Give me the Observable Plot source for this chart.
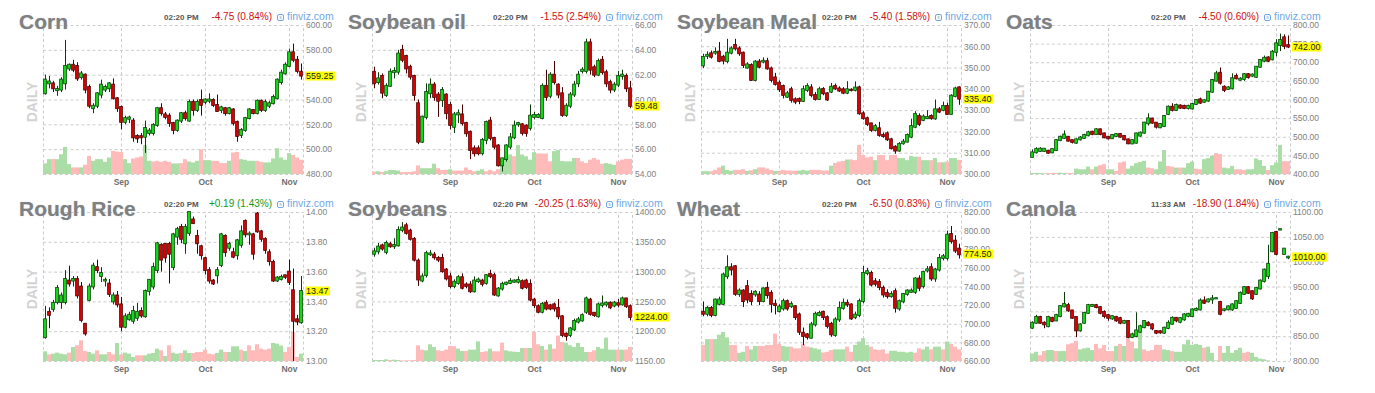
<!DOCTYPE html>
<html><head><meta charset="utf-8">
<script src="https://cdn.jsdelivr.net/npm/d3@7"></script>
<script src="https://cdn.jsdelivr.net/npm/@observablehq/plot@0.6"></script>
<style>
body{margin:0;background:#fff}
#wrap{position:relative;width:1375px;height:393px;overflow:hidden;font-family:"Liberation Sans",Arial,sans-serif}
.panel{position:absolute;width:375px;height:200px}
.panel svg{position:absolute;left:0;top:0}
.ttl{position:absolute;left:19px;top:11px;font-weight:bold;font-size:21px;line-height:21px;color:#808080;white-space:nowrap;text-shadow:0 0 1px rgba(150,170,200,0.7)}
.tm{position:absolute;left:164px;top:14px;font-size:8px;line-height:8px;font-weight:bold;color:#555;white-space:nowrap}
.chg{position:absolute;right:103px;top:11.5px;font-size:10px;line-height:10px;white-space:nowrap}
.fv{position:absolute;left:277px;top:11px;font-size:10.5px;line-height:10px;color:#6fa8e4;white-space:nowrap}
.ic{display:inline-block;width:5px;height:5px;border:1px solid #6fa8e4;border-radius:2px;font-size:5px;line-height:5px;text-align:center;margin-right:3px;vertical-align:1px}
.daily{position:absolute;left:32px;top:102px;font-weight:bold;font-size:14px;line-height:14px;color:#d3d3d3;transform:translate(-50%,-50%) rotate(-90deg);white-space:nowrap}
.last{position:absolute;left:305px;height:9px;line-height:9px;font-size:9px;background:#ffff00;color:#222;padding:0 1px;transform:translateY(-50%);white-space:nowrap}
#err{position:absolute;left:0;top:370px;color:red;font-size:12px}
</style></head>
<body><div id="wrap"></div><div id="err"></div>
<script>
const months = ["Sep", "Oct", "Nov"];
const monthIdx = [19, 40, 61];
const N = 65;

const names = ["Corn", "Soybean oil", "Soybean Meal", "Oats", "Rough Rice", "Soybeans", "Wheat", "Canola"];
const times = ["02:20 PM", "02:20 PM", "02:20 PM", "02:20 PM", "02:20 PM", "02:20 PM", "02:20 PM", "11:33 AM"];
const changes = ["-4.75 (0.84%)", "-1.55 (2.54%)", "-5.40 (1.58%)", "-4.50 (0.60%)", "+0.19 (1.43%)", "-20.25 (1.63%)", "-6.50 (0.83%)", "-18.90 (1.84%)"];
const lastPrices = [559.25, 59.48, 335.40, 742.00, 13.47, 1224.00, 774.50, 1010.00];

const cornTicks = [480, 500, 520, 540, 560, 580, 600];
const soyOilTicks = [54, 56, 58, 60, 62, 64, 66];
const mealTicks = [300, 310, 320, 330, 340, 350, 360, 370];
const oatsTicks = [400, 450, 500, 550, 600, 650, 700, 750, 800];
const riceTicks = [13.0, 13.2, 13.4, 13.6, 13.8, 14.0];
const beansTicks = [1150, 1200, 1250, 1300, 1350, 1400];
const wheatTicks = [660, 680, 700, 720, 740, 760, 780, 800, 820];
const canolaTicks = [800, 850, 900, 950, 1000, 1050, 1100];

// Corn
const cornO = [545,553,553,547.5,548,553,565,568,567,558,560,550,533,535,544,548,549,552,541,534,522,524.5,523,510.6,510.5,510,513,513,519.5,533,528,527,521,515.5,523,529,523,538,531.5,539.6,538,539,539.6,535.6,531.5,533,529,532,522,511.4,515.5,525,531.5,529,539,531.5,535,537,541,554,561,567,578,572,562.4];
const cornH = [560,559,555,551,558,588,569,572,570,563,561,552,537,546,556,552,554,557,542,535,527,527,525,512,513,523,517,521,534,537,530,529,522,524,530,531,540,540,540,548,541,545,541,544,535,534,534,533,523,517,526,533,532,540,540,540,539,544,557,564,570,581,585,575,569];
const cornL = [544,549,546,543,546,548,563,562,555,556,545,533,529,533,541,546,546,540,530,516,520,521,506,505,504,497,511,511,518,527,524,518,512,514,521,523,522,527,530,527,536,537,534,530,529,527,528,519,506,509,514,524,528,528,530,530,533,536,540,552,560,566,570,561,556];
const cornC = [556,554.5,549,548.5,556,567,568,564,557,561,548,535,535,545,552,550,553,541,533,522,525,525.5,509.5,508.7,509.5,517,515,519.5,533,529,526,521,515.5,523,529,525,538,531.5,538,535.6,540,540,535.6,530.7,533.7,529,533,521,510.6,515.5,525,532,529,539,531.5,538,537,542,556,561.6,568,578,572,563,559.25];
const cornV = [32,45,-45,45,60,82,30,-20,-20,20,-28,-55,40,45,45,37,50,-70,-68,-67,45,33,-47,-50,-53,88,40,-38,-40,-37,-40,-37,32,32,-33,-45,38,35,40,-75,42,42,-40,-40,-33,-33,40,-65,-67,45,43,40,40,-40,-37,35,35,47,78,50,43,63,-58,-50,-43];

// Soybean oil
const soyOilO = [62.24,61.4,61.9,60.36,61.1,62.2,62.24,64.0,63.5,62.64,61.9,59.7,56.6,58.6,60.5,61.2,60.4,59.96,60.4,59.55,57.8,58.8,58.8,58.1,57.4,56.07,56.07,55.67,56.74,58.3,56.9,56.3,54.7,55.2,56.2,56.95,58.0,58.0,57.9,57.7,58.6,58.6,58.5,61.1,60.3,62.0,61.2,60.5,58.75,59.5,60.4,61.3,62.3,62.3,64.6,62.6,62.0,63.2,62.2,61.4,60.8,61.2,61.9,61.9,60.9];
const soyOilH = [62.64,62.2,62.1,61.3,62.5,62.6,64.0,64.4,63.6,62.8,62.0,60.0,58.7,61.3,61.7,61.4,60.6,61.0,60.5,59.8,59.0,59.2,59.6,58.2,57.5,56.3,56.3,56.9,58.3,58.6,57.0,56.4,55.3,56.4,57.3,58.3,58.2,58.1,58.0,59.6,59.0,58.9,61.3,62.4,62.2,63.1,61.3,61.0,59.7,60.6,61.5,62.3,62.6,64.9,64.9,62.8,63.3,63.5,62.4,61.6,61.4,62.3,62.4,62.1,61.5];
const soyOilL = [60.9,61.2,60.1,60.2,61.0,61.7,62.0,63.0,62.1,61.6,59.9,56.4,56.5,58.4,60.1,59.9,58.6,59.4,58.4,57.6,57.3,58.1,57.9,57.0,55.2,55.4,55.5,55.5,56.4,56.7,56.0,54.6,54.2,55.0,56.0,56.8,57.8,57.1,57.0,57.5,58.4,58.5,58.4,59.9,60.1,61.2,60.1,58.6,58.6,59.3,60.2,61.0,62.1,62.1,62.0,61.8,61.9,62.0,61.0,60.5,60.6,61.0,61.6,60.6,59.3];
const soyOilC = [61.30,61.7,60.55,61.1,62.24,62.3,63.7,63.2,62.5,61.84,60.36,56.6,58.62,60.6,61.2,60.2,59.9,60.76,58.9,57.95,58.8,58.9,58.1,57.28,55.93,55.67,55.67,56.74,58.2,56.9,56.2,54.7,55.26,56.3,56.95,57.9,58.1,57.3,57.3,58.7,58.75,58.75,61.1,60.2,62.0,61.4,60.4,58.75,59.5,60.4,61.2,62.0,62.4,64.6,62.4,62.0,63.1,62.2,61.3,60.8,61.2,61.9,62.0,60.9,59.48];
const soyOilV = [-7,8,-6,8,12,12,10,-6,-6,-6,-8,-25,17,17,17,30,-17,-12,-12,14,-10,-10,-10,-19,-12,-8,10,14,-8,-12,-8,-14,42,52,57,-52,85,57,52,42,64,-60,-60,-60,-37,67,70,38,37,37,47,-47,-37,-32,-42,-47,-42,-30,32,30,27,-37,-42,-44,-44];

// Soybean Meal
const mealO = [351,355.5,356.7,357,357.5,355.1,353,357,360.6,359,357,350,351.2,344.2,352.8,352.8,353,349.6,345.4,342.9,341.3,336.3,339.8,335.1,335.2,334.3,339.5,340.7,337.1,335.2,340,337.9,338.7,341.3,340.2,339.8,338.2,339.6,339.5,340.7,328.5,326.2,323.8,320.7,321.5,318.3,319.1,316.3,312.8,311,314.4,315.2,317.5,322.2,327.3,325.4,326.2,327.3,326.1,330.4,330.1,332,328.2,336.6,340.7];
const mealH = [356.5,357.6,358,359.5,362,356,363.5,360,363.5,360,357.5,352.5,352,353.5,354,354.8,354.6,350.5,347.5,344,342,339,341,336,336,341.5,342.6,342.2,338.5,341,340.8,338.5,342.8,342.5,341.2,340.8,343.6,340.3,343.5,341.5,329.5,327,324,323.5,324.5,319.5,320,317,313.5,315,316.5,319,326,329.5,328.5,328,330,328,335,331.5,334,333.5,337.5,341,341.2];
const mealL = [349.8,354,354.2,356,352.5,351.5,352,356.2,358,355.5,349.8,349.5,343.8,343.5,349.6,352,349,343,341.5,338.5,335.5,335.8,333.5,332.8,332.8,333.8,338.5,336,334.5,334.8,337,334.3,338,339.5,338.5,337.5,337.5,338.8,338.8,327.8,325.5,322.5,319.8,320,317.5,317,315.5,311.5,309.5,310.5,313.8,314.8,316.8,321.5,322.5,324.8,325.8,325.5,325.5,328.6,329.5,327.8,328,336,332.5];
const mealC = [355,356,355.1,357.4,353.1,353.3,357,359,359,356.7,351.2,351.5,344.2,352.8,350.4,353.2,349.6,344.2,342.3,339.8,337.1,337.9,334.8,334,334.3,339.8,341.3,337.1,335.2,339.8,337.9,335,341,340.2,339.2,338.2,339.8,339.4,340.6,328.5,326.2,323.5,320.7,322.5,318.3,317.8,316.3,312.1,311,314.1,315.2,318.3,322.5,328.2,323.5,327,326.8,326.2,330.4,329.3,332,328.2,336.8,340.2,335.4];
const mealV = [8,8,-8,-12,-19,24,12,9,-12,-12,-14,9,-11,14,-19,-19,-16,-12,9,-9,-12,-10,-10,-9,10,12,10,-12,-12,-12,-10,-10,24,-32,-36,-38,42,-42,-40,-84,-55,-48,-50,40,-55,-55,-40,-55,-55,46,46,40,52,50,-50,40,40,-40,46,-34,34,-36,46,46,-41];

// Oats
const oatsO = [446,458.2,462,462,462.6,458,464,491,497,500,491,484,493,497,504,513.6,507,520,509,500,496,502,507.4,502,493,482,484,503,511,536,549,537.8,525.3,528.9,561,580.7,571.8,584,583,577,576,587.9,600.4,594,597,621,650.6,672,634.3,628.3,630,663.2,653,655,668,664,661,688,704,713,707.8,728,746,767,746];
const oatsH = [466,472,472,469,465,468,494,503,517,502,490,496,502,508,516,516,523,522,511,502,507,510,509,504,495,493,511,514,540,563,551,539,537,558,584,590,589,587,586,586,591,601,605,600,623,655,677,686,638,636,670,670,660,671,671,670,690,708,718,716,733,762,777,775,772];
const oatsL = [445,455,460,460,455,456,462,488,494,487,482,481,490,494,501,504,505,504,496,493,494,499,498,490,480,480,482,500,508,530,535,522,523,526,558,568,569,575,574,573,573,585,588,591,594,618,648,640,620,626,627,654,651,650,656,660,658,685,700,701,705,716,730,735,738];
const oatsC = [458,466.8,468,468,457,466.8,491,500,506,489.5,486,493,498,504.6,512,507.4,520,507,498.4,495.7,504.6,507,500.2,493,482.3,491,509,511,538,549.4,537.8,527,534.2,555.7,580.7,571.8,585.2,578,577,583,587.9,598.7,591.5,598,621,652.3,670.2,645,625.5,632.5,657,656.8,656,668,660,667,688,706,712,704,728.4,750.8,759.7,743.6,742];
const oatsV = [3,3,3,2,-3,-3,-3,4,3,-3,-3,16,14,14,22,-14,22,-26,-29,14,14,-9,-34,-37,16,24,32,36,39,-19,-17,14,37,71,-24,-22,19,-19,19,32,37,-16,-14,44,47,54,-62,-59,19,17,24,-14,-14,-12,14,14,46,41,24,-12,26,34,86,-38,-38];

// Rough Rice
const riceO = [13.16,13.33,13.35,13.395,13.395,13.395,13.54,13.54,13.55,13.50,13.25,13.41,13.50,13.63,13.57,13.54,13.52,13.40,13.44,13.38,13.23,13.28,13.27,13.29,13.335,13.30,13.47,13.50,13.61,13.78,13.785,13.785,13.63,13.835,13.90,13.79,13.86,13.95,13.84,13.77,13.69,13.61,13.54,13.575,13.645,13.84,13.76,13.73,13.71,13.78,13.94,13.85,13.85,13.99,13.87,13.82,13.73,13.665,13.54,13.55,13.575,13.60,13.475,13.28,13.26];
const riceH = [13.37,13.36,13.41,13.51,13.46,13.61,13.64,13.57,13.57,13.53,13.22,13.52,13.66,13.68,13.63,13.56,13.55,13.46,13.47,13.43,13.32,13.33,13.37,13.39,13.36,13.48,13.55,13.66,13.80,13.79,13.79,13.80,13.86,13.90,13.92,13.92,14.00,13.97,13.88,13.78,13.70,13.63,13.55,13.63,13.86,13.85,13.80,13.76,13.82,13.91,13.95,13.87,13.86,14.00,13.88,13.83,13.75,13.68,13.57,13.58,13.58,13.68,13.62,13.31,13.57];
const riceL = [13.15,13.22,13.33,13.38,13.35,13.38,13.50,13.50,13.42,13.26,13.17,13.40,13.48,13.59,13.53,13.50,13.43,13.38,13.36,13.20,13.22,13.27,13.25,13.27,13.29,13.29,13.44,13.48,13.59,13.60,13.66,13.52,13.61,13.78,13.79,13.72,13.84,13.92,13.72,13.68,13.58,13.52,13.51,13.52,13.63,13.70,13.74,13.69,13.68,13.76,13.83,13.78,13.68,13.86,13.80,13.72,13.64,13.53,13.53,13.54,13.55,13.51,13.00,13.24,13.25];
const riceC = [13.28,13.31,13.39,13.49,13.44,13.55,13.52,13.55,13.44,13.275,13.185,13.50,13.64,13.61,13.59,13.545,13.45,13.44,13.38,13.23,13.30,13.31,13.335,13.33,13.305,13.47,13.545,13.63,13.79,13.68,13.695,13.72,13.85,13.885,13.82,13.90,14.00,13.925,13.79,13.71,13.61,13.54,13.52,13.61,13.85,13.73,13.785,13.70,13.81,13.87,13.85,13.855,13.72,13.87,13.82,13.745,13.67,13.54,13.56,13.565,13.565,13.53,13.27,13.265,13.47];
const riceV = [29,-20,22,25,22,20,-25,42,-47,-62,-30,27,22,-32,20,20,-27,-20,54,-20,25,22,12,-17,-17,17,22,24,37,-32,15,-47,25,22,-24,32,24,-24,-27,-27,-34,-22,-20,24,34,-27,27,44,44,-34,30,-47,-32,-50,-37,-34,-37,54,52,46,-27,-42,-87,-12,22];

// Soybeans
const beansO = [1330,1334,1344,1333,1346,1342.5,1344,1370,1377.7,1368.8,1355,1318.5,1285,1294,1329,1328.6,1323,1323,1303.5,1292,1275.6,1281,1290.6,1278.4,1278.4,1267,1284,1285,1281,1296,1294,1260,1271.6,1279.5,1281,1283,1283,1284,1285,1279.5,1253,1242,1232.6,1247.7,1243.5,1245,1239,1225,1195.8,1193.5,1203,1216,1218,1232.6,1253,1231,1225,1244,1245,1247.7,1243,1247,1245,1255,1242];
const beansH = [1340,1348,1347,1352,1350,1356,1376,1383,1382,1372,1358,1322,1297,1335,1336,1333,1326,1330,1306,1298,1287,1294,1297,1282,1284,1292,1290,1288,1296,1303,1298,1274,1283,1283,1289,1287,1292,1287,1288,1287,1256,1245,1249,1252,1246,1248,1254,1227,1198,1207,1221,1224,1230,1258,1256,1232,1248,1260,1250,1250,1251,1254,1258,1256,1245];
const beansL = [1325,1329,1335,1329,1340,1338,1342,1366,1362,1352,1317,1276,1282,1290,1326,1320,1316,1298,1285,1272,1272,1278,1270,1272,1264,1265,1281,1275,1278,1289,1259,1258,1268,1277,1279,1281,1280,1270,1271,1250,1239,1230,1230,1235,1235,1233,1220,1190,1184,1190,1200,1213,1216,1229,1226,1224,1223,1240,1241,1237,1240,1240,1243,1239,1218];
const beansC = [1334,1342,1338.6,1348,1342.5,1344.5,1370,1374,1365,1355,1320,1286.7,1292,1331,1330.5,1324,1320,1300.7,1288.4,1275.6,1283,1290.6,1272.8,1276,1267,1285,1286.5,1279.5,1294,1292.3,1261.6,1271.6,1279.5,1281.5,1284.5,1285,1286,1272.8,1274,1253,1243.7,1232.6,1246,1238,1238,1238,1225,1193.5,1192,1204.7,1217,1219.8,1227,1255,1229,1227,1245,1246.5,1247.7,1240,1248,1244.5,1255,1242,1224];
const beansV = [3,3,3,5,-3,4,3,-2,-2,-2,-3,-47,-34,32,50,42,-32,-30,-34,-45,-44,37,30,-30,34,34,59,-27,-29,37,-29,-29,-55,32,29,28,27,39,-39,39,-87,-50,45,-34,50,-37,-76,-57,55,47,42,54,42,27,-27,-32,42,37,70,34,34,-34,34,-34,-42];

// Wheat
const wheatO = [712.9,710.7,717,709.3,721.4,721.4,751,760.7,761.8,732,735.7,740.4,732.1,731.5,731.4,724.3,738.6,733.2,721.4,713.5,716.4,724.3,718.8,718.8,710,690.4,688.6,685,699.3,709.5,712.9,707.1,700,687.9,704.6,717,722.5,720.7,707,709.3,724.3,754.6,754.6,745.7,745,738.6,733.2,729.6,735,716.4,724,732,734.3,734.3,748.6,740.4,757.2,760.7,748.6,758.2,770.7,770.7,796.4,789.3,780.7];
const wheatH = [724,719,719,727,729,755,773.6,765,763,738,737,747,736,736,735,739,745,736,726,721,727,726,724,720,712,696,690,702,713,714,714,709,702,707,724,727,726,722,713,727,762,760,757,749,748,741,737,735,738,726,733,737,738,750,752,757,762,765,760,775,775,800,805,795,786];
const wheatL = [708,708,707,708,720,720,748,752,730,729,718,722,720,729,720,723,727,712,710,712,714,714,717,704,688,677,683,684,697,708,704,695,686,686,702,715,718,704,705,707,722,752,740,740,736,728,727,728,712,714,722,730,733,732,735,738,755,746,745,756,768,768,786,776,770];
const wheatC = [710.7,717,709.3,726,726,752.9,760.7,758.2,732.1,735.7,724.3,726,724.3,734.3,724.3,737.9,730.7,721.4,720,718.5,724.3,716.4,721.4,707.1,691.4,686.8,685.7,699.3,710.7,711.6,707.1,697.5,688.6,704.6,717.1,722.5,720.7,705.7,709.8,724.3,754.6,756.4,742.1,742.9,739.3,731.4,729.6,732,717.1,724.3,732.1,735.7,735.7,748.6,738.6,755.7,758.4,748.6,758.2,770.7,772.5,795.7,788.6,778.6,774.5];
const wheatV = [-47,64,-64,64,77,85,69,-47,-47,24,27,-44,34,44,-44,-44,-47,-47,-80,-50,44,42,-42,-37,-37,-50,-42,40,37,34,-25,-27,-32,34,34,34,-42,-27,47,57,67,47,-42,-34,-32,-34,-22,30,30,27,27,25,27,-24,-37,34,42,-34,42,42,-34,57,-50,-42,-34];

// Canola
const canolaO = [867,877,888.4,877,870,887,881.7,890.4,910,912.5,901.8,888.4,861.6,877,897,911,912.5,908.5,899,892.4,885.7,888.4,886.3,877,880.4,848.2,850,859,868,877,873.7,860.3,860,857,866.3,875,887,879,883.7,891,890.4,903,903.8,921.9,920,924,926,919,902.5,904,903.8,907,917,935,948.7,940.6,935,946,961,970.8,1021,1059.8,1064.5,1015.6,1008.5];
const canolaH = [880,893,891,880,891,889,895,912,939,917,903,890,876,899,915,915,915,910,902,895,892,891,889,883,882,857,898,873,882,880,876,862,862,869,882,890,888,888,896,897,906,908,926,930,926,933,928,921,906,912,916,922,940,951,951,942,949,964,986,1034,1060,1062,1066,1027,1012];
const canolaL = [865,875,875,866,868,878,880,888,908,899,885,848,859,875,895,909,906,894,886,881,883,879,874,875,846,846,848,857,866,870,862,854,855,855,864,873,878,876,881,888,888,901,902,915,918,915,925,892,900,902,901,905,915,933,935,923,933,944,958,965,1019,1013,1064,1014,1005];
const canolaC = [877,888.4,877,873.7,888.4,880.4,892.4,910.5,915,901.8,887,861.6,873.7,897,912.5,913,908.5,897,890.4,887,890.4,881.7,877,880.4,848.2,853.6,861.6,870,880.4,872.3,865.6,857,857.5,867,877,887,881.7,886.3,893.8,895,903.8,905,921.9,917.2,924,926,926.5,895,904,910,914,920.5,937.3,948.7,937.3,926,947.3,962,984,995.6,1057.8,1015.6,1065.5,1026.3,1010];
const canolaV = [22,27,-17,-29,32,32,-29,29,29,-49,-52,-59,34,37,39,32,-50,-37,-47,-29,-29,44,-50,44,-67,-57,37,85,-34,-29,-32,-47,-47,34,32,-29,27,27,49,62,47,50,47,-39,42,24,2,-44,24,44,24,32,39,-24,-27,24,12,7,5,2,0,0,0,0,0];

const panels = [
  {O: cornO, H: cornH, L: cornL, C: cornC, V: cornV, ticks: cornTicks},
  {O: soyOilO, H: soyOilH, L: soyOilL, C: soyOilC, V: soyOilV, ticks: soyOilTicks},
  {O: mealO, H: mealH, L: mealL, C: mealC, V: mealV, ticks: mealTicks},
  {O: oatsO, H: oatsH, L: oatsL, C: oatsC, V: oatsV, ticks: oatsTicks},
  {O: riceO, H: riceH, L: riceL, C: riceC, V: riceV, ticks: riceTicks},
  {O: beansO, H: beansH, L: beansL, C: beansC, V: beansV, ticks: beansTicks},
  {O: wheatO, H: wheatH, L: wheatL, C: wheatC, V: wheatV, ticks: wheatTicks},
  {O: canolaO, H: canolaH, L: canolaL, C: canolaC, V: canolaV, ticks: canolaTicks}
];

const UP = "#10e010", DOWN = "#e00000", UPDK = "#0b3d0b", DNDK = "#4a0000";
const VUP = "#aadea6", VDN = "#ffbaba", GRID = "#cccccc";
const errs = [];
const wrap = document.getElementById("wrap");
const W = 375, H = 200, ML = 43, MR = 72, MT = 25, MB = 26;

panels.forEach((p, k) => {
  ["O","H","L","C","V"].forEach(key => { if (p[key].length !== N) errs.push(names[k] + " " + key + " " + p[key].length); });
  const col = k % 4, row = Math.floor(k / 4);
  const lo = p.ticks[0], hi = p.ticks[p.ticks.length - 1];
  const data = p.O.map((o, i) => ({i, o, h: p.H[i], l: p.L[i], c: p.C[i], v: p.V[i]}));
  const vmax = d3.max(data, d => Math.abs(d.v));
  const volTop = d => lo + Math.abs(d.v) / vmax * 0.195 * (hi - lo);
  const chart = Plot.plot({
    width: W, height: H,
    marginLeft: ML, marginRight: MR, marginTop: MT, marginBottom: MB,
    style: {background: "none", overflow: "visible", fontFamily: "'Liberation Sans', Arial, sans-serif"},
    x: {domain: [-0.5, N - 0.5], axis: null},
    y: {domain: [lo, hi], axis: null},
    marks: [
      Plot.ruleY(p.ticks, {y: d => d, x1: () => -0.5, x2: () => N - 0.5, stroke: GRID, strokeDasharray: "3,2.5"}),
      Plot.ruleX([-0.5, ...monthIdx, N - 0.5], {x: d => d, y1: () => lo, y2: () => hi, stroke: GRID, strokeDasharray: "3,2.5"}),
      Plot.rect(data.filter(d => d.v !== 0), {x1: d => d.i - 0.5, x2: d => d.i + 0.5, y1: () => lo, y2: volTop, fill: d => d.v > 0 ? VUP : VDN}),
      Plot.ruleX(data, {x: "i", y1: "l", y2: "h", stroke: d => d.c >= d.o ? UPDK : DNDK, strokeWidth: 1}),
      Plot.rect(data, {x1: d => d.i - 0.34, x2: d => d.i + 0.34, y1: "o", y2: "c", fill: d => d.c >= d.o ? UP : DOWN, stroke: d => d.c >= d.o ? UPDK : DNDK, strokeWidth: 0.8, insetTop: -0.5, insetBottom: -0.5}),
      Plot.text(p.ticks, {x: () => N - 0.5, y: d => d, text: d => d.toFixed(2), dx: 2.5, textAnchor: "start", fontSize: 8.5, fill: "#808080"}),
      Plot.text(monthIdx, {x: d => d, frameAnchor: "bottom", text: (d, j) => months[j], lineAnchor: "top", dy: 4, fontSize: 8.5, fontWeight: "bold", fill: "#707070"})
    ]
  });
  const div = document.createElement("div");
  div.className = "panel";
  div.style.left = (col * 329) + "px";
  div.style.top = (row * 187) + "px";
  div.appendChild(chart);
  const add = (cls, txt, css) => { const e = document.createElement("div"); e.className = cls; if (txt != null) e.textContent = txt; if (css) Object.assign(e.style, css); div.appendChild(e); return e; };
  add("daily", "DAILY");
  add("ttl", names[k]);
  add("tm", times[k]);
  add("chg", changes[k], {color: changes[k][0] === "+" ? "#139913" : "#cc1111"});
  const fv = add("fv", null);
  const ic = document.createElement("span"); ic.className = "ic"; ic.textContent = "s"; fv.appendChild(ic);
  fv.appendChild(document.createTextNode("finviz.com"));
  let yPix;
  try { yPix = chart.scale("y").apply(lastPrices[k]); } catch (e) { yPix = MT + (hi - lastPrices[k]) / (hi - lo) * (H - MT - MB); }
  add("last", lastPrices[k].toFixed(2), {top: yPix + "px"});
  wrap.appendChild(div);
});
if (errs.length) document.getElementById("err").textContent = "LEN: " + errs.join("; ");
</script>
</body></html>
